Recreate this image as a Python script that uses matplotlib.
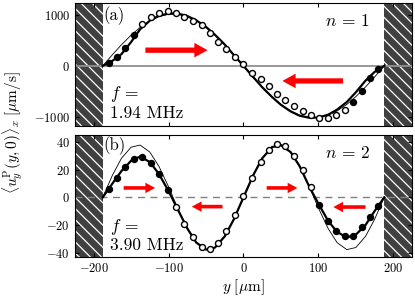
import matplotlib
matplotlib.use("Agg")
import matplotlib.pyplot as plt
import numpy as np

plt.rcParams['font.family'] = 'serif'
plt.rcParams['font.serif'] = ['cmr10']
plt.rcParams['mathtext.fontset'] = 'cm'
plt.rcParams['axes.formatter.use_mathtext'] = True
plt.rcParams['hatch.color'] = 'white'
plt.rcParams['hatch.linewidth'] = 0.9

# measurement positions (um)
y_pts = [-180, -169, -158, -146, -135, -124, -113, -101, -90, -79, -68, -56, -45, -34, -23, -11,
         0, 11, 23, 34, 45, 56, 68, 79, 90, 101, 113, 124, 135, 146, 158, 169, 180]
# (a) n=1, 1.94 MHz
meas_a = [59, 165, 343, 605, 816, 967, 1046, 1079, 1046, 967, 888, 795, 638, 474, 322, 177,
          33, -132, -263, -401, -546, -678, -796, -895, -974, -1020, -1020, -974, -862, -711, -493, -230, -53]
filled_a = [1, 1, 1, 1] + [0] * 25 + [1, 1, 1, 1]
# (b) n=2, 3.90 MHz
meas_b = [6, 14, 22, 28, 29.5, 25, 17, 5, -7, -19, -29, -36, -37.7, -33, -24, -12.5,
          0.7, 13.7, 25.7, 34.4, 38.9, 36.8, 29.6, 20, 7.2, -5.5, -16.8, -24, -28, -28, -21.6, -14.4, -6.5]
filled_b = [1] * 8 + [0] * 17 + [1] * 8

# model curves
y_line = [-188, -175, -163, -150, -138, -125, -113, -100, -88, -75, -63, -50, -38, -25, -13, 0,
          13, 25, 38, 50, 63, 75, 88, 100, 113, 125, 138, 150, 163, 175, 188]
thick_a = [0, 100, 230, 470, 720, 890, 985, 1030, 1030, 980, 895, 765, 610, 420, 215, 0,
           -220, -420, -610, -765, -895, -980, -1020, -1015, -960, -860, -710, -520, -290, -120, 0]
thin_a = [0, 220, 414, 605, 757, 886, 969, 1015, 1015, 969, 886, 757, 605, 414, 220, 0,
          -220, -414, -605, -757, -886, -969, -1015, -1015, -969, -886, -757, -605, -414, -220, 0]
thick_b = [0, 10, 19, 26.5, 29.5, 25.5, 17, 4.5, -8.5, -22.5, -32.7, -37.8, -36.3, -28.2, -16, 0,
           16, 28.2, 36.3, 37.8, 32.7, 22.5, 7.6, -4.5, -17, -25, -29, -27, -20, -10, 0]
thin_b = [0, 16, 28.2, 36.3, 37.8, 32.7, 22.5, 7.6, -7.6, -22.5, -32.7, -37.8, -36.3, -28.2, -16, 0,
          16, 28.2, 36.3, 37.8, 32.7, 22.5, 7.6, -7.6, -22.5, -32.7, -37.8, -36.3, -28.2, -16, 0]

# arrows: (tail y, head y, value)
arrows_a = [(-131, -48, 309), (133, 52, -296)]
arrows_b = [(-160, -118, 6.8), (-28, -69, -6.7), (31, 72, 6.8), (163, 120, -7)]

wall = 188
fig = plt.figure(figsize=(4.15, 3.05), dpi=100)
ax1 = fig.add_axes([0.1807, 0.588, 0.812, 0.402])
ax2 = fig.add_axes([0.1807, 0.158, 0.812, 0.399])


def panel(ax, thick, thin, meas, filled, arrows, ylim, yticks, label, ntxt, ftxt, dashed, aw):
    ax.set_xlim(-225, 225)
    ax.set_ylim(*ylim)
    for x0, x1 in [(-225, -wall), (wall, 225)]:
        ax.axvspan(x0, x1, facecolor='#404040', hatch='\\\\\\', edgecolor='white', lw=0, zorder=1)
    if dashed:
        ax.axhline(0, color='#808080', lw=1.0, ls=(0, (5, 4)), zorder=2)
    else:
        ax.axhline(0, color='#909090', lw=1.3, zorder=2)
    ax.plot(y_line, thin, color='black', lw=0.6, zorder=3)
    ax.plot(y_line, thick, color='black', lw=1.6, zorder=3)
    f = np.array(filled) == 1
    yp = np.array(y_pts)
    mv = np.array(meas)
    ax.plot(yp[~f], mv[~f], 'o', ms=4.3, mfc='white', mec='black', mew=1.0, zorder=4)
    ax.plot(yp[f], mv[f], 'o', ms=4.3, mfc='black', mec='black', mew=1.0, zorder=4)
    hw, hl, tw = aw
    for t, h, v in arrows:
        ax.annotate('', xy=(h, v), xytext=(t, v),
                    arrowprops=dict(arrowstyle=f'simple,head_width={hw},head_length={hl},tail_width={tw}',
                                    mutation_scale=1, color='red', lw=0, shrinkA=0, shrinkB=0), zorder=5)
    ax.set_xticks([-200, -100, 0, 100, 200])
    ax.set_yticks(yticks)
    ax.tick_params(direction='in', top=True, right=True, length=3, width=0.8, labelsize=9)
    ax.text(0.083, label[1], label[0], transform=ax.transAxes, fontsize=12, va='center', ha='left')
    ax.text(0.875, ntxt[1], ntxt[0], transform=ax.transAxes, fontsize=12.5, va='center', ha='right')
    ax.text(0.104, ftxt[1], r'$f\,=$', transform=ax.transAxes, fontsize=12.5, va='center', ha='left')
    ax.text(0.104, ftxt[2], ftxt[0], transform=ax.transAxes, fontsize=12.5, va='center', ha='left')


panel(ax1, thick_a, thin_a, meas_a, filled_a, arrows_a, (-1175, 1235), [-1000, 0, 1000],
      ('(a)', 0.90), (r'$n\,=\,1$', 0.853), ('1.94 MHz', 0.255, 0.1), False, (10.5, 9.5, 3.8))
panel(ax2, thick_b, thin_b, meas_b, filled_b, arrows_b, (-43, 45), [-40, -20, 0, 20, 40],
      ('(b)', 0.915), (r'$n\,=\,2$', 0.852), ('3.90 MHz', 0.245, 0.093), True, (7.5, 7.0, 2.6))
ax1.tick_params(labelbottom=False)
ax2.set_xlabel(r'$y\ [\mu\mathrm{m}]$', fontsize=11, labelpad=2)
fig.text(0.03, 0.567, r'$\langle u_y^{\mathrm{P}}(y,0)\rangle_x\ [\mu\mathrm{m/s}]$',
         rotation=90, fontsize=11, ha='center', va='center')

fig.savefig('out.png', dpi=100)
